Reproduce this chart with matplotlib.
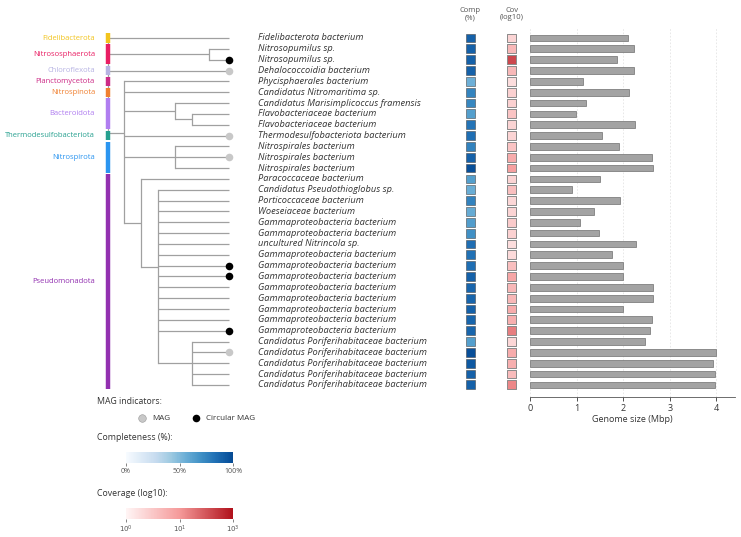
import numpy as np
import matplotlib
matplotlib.use("Agg")
import matplotlib.pyplot as plt
from matplotlib.colors import LinearSegmentedColormap, Normalize
from matplotlib.cm import ScalarMappable

plt.rcParams["font.family"] = ["Open Sans", "DejaVu Sans"]

# ---- data -------------------------------------------------------------
species = [
    "Fidelibacterota bacterium",
    "Nitrosopumilus sp.",
    "Nitrosopumilus sp.",
    "Dehalococcoidia bacterium",
    "Phycisphaerales bacterium",
    "Candidatus Nitromaritima sp.",
    "Candidatus Marisimplicoccus framensis",
    "Flavobacteriaceae bacterium",
    "Flavobacteriaceae bacterium",
    "Thermodesulfobacteriota bacterium",
    "Nitrospirales bacterium",
    "Nitrospirales bacterium",
    "Nitrospirales bacterium",
    "Paracoccaceae bacterium",
    "Candidatus Pseudothioglobus sp.",
    "Porticoccaceae bacterium",
    "Woeseiaceae bacterium",
    "Gammaproteobacteria bacterium",
    "Gammaproteobacteria bacterium",
    "uncultured Nitrincola sp.",
    "Gammaproteobacteria bacterium",
    "Gammaproteobacteria bacterium",
    "Gammaproteobacteria bacterium",
    "Gammaproteobacteria bacterium",
    "Gammaproteobacteria bacterium",
    "Gammaproteobacteria bacterium",
    "Gammaproteobacteria bacterium",
    "Gammaproteobacteria bacterium",
    "Candidatus Poriferihabitaceae bacterium",
    "Candidatus Poriferihabitaceae bacterium",
    "Candidatus Poriferihabitaceae bacterium",
    "Candidatus Poriferihabitaceae bacterium",
    "Candidatus Poriferihabitaceae bacterium",
]

completeness = [90, 90, 90, 90, 55, 75, 74, 63, 82, 84, 76, 90, 98, 63, 56,
                76, 57, 64, 70, 84, 83, 84, 90, 88, 88, 90, 88, 88, 63, 98,
                93, 90, 90]

coverage_log10 = [0.55, 1.0, 2.4, 1.0, 0.4, 0.6, 0.6, 0.8, 0.55, 0.55, 0.8,
                  1.2, 1.4, 0.55, 0.9, 0.5, 0.55, 0.7, 0.6, 0.4, 0.45, 0.9,
                  1.3, 1.0, 1.0, 1.2, 1.15, 1.8, 0.5, 1.2, 1.15, 0.95, 1.7]

genome_mbp = [2.10, 2.23, 1.86, 2.23, 1.13, 2.12, 1.20, 0.99, 2.25, 1.54,
              1.91, 2.62, 2.64, 1.50, 0.90, 1.93, 1.37, 1.07, 1.48, 2.27,
              1.76, 2.00, 1.99, 2.64, 2.64, 1.99, 2.62, 2.57, 2.46, 3.99,
              3.93, 3.97, 3.97]

mag_rows = [3, 9, 11, 29]
circular_rows = [2, 21, 22, 27]

phyla = ["Fidelibacterota", "Nitrososphaerota", "Chloroflexota",
         "Planctomycetota", "Nitrospinota", "Bacteroidota",
         "Thermodesulfobacteriota", "Nitrospirota", "Pseudomonadota"]
phylum_first = [0, 1, 3, 4, 5, 6, 9, 10, 13]
phylum_last = [0, 2, 3, 4, 5, 8, 9, 12, 32]
phylum_colors = ["#f2c41d", "#e91e63", "#b7b3e3", "#cc2a86", "#f08030",
                 "#b07ef0", "#26a08f", "#2b95f0", "#9230b0"]

# tree: (node depth, children); integers are leaf rows
tree = (0, [0, (6, [1, 2]), 3,
            (1, [4, 5, (4, [6, (5, [7, 8])]), 9, (4, [10, 11, 12]),
                 (2, [13, (3, list(range(14, 28)) + [(5, list(range(28, 33)))])])])])

# ---- layout (pixel space) ---------------------------------------------
W, H = 741, 537
Y0, DY = 38.0, 10.84
X_ROOT, STEP, X_TIP = 107.5, 16.9, 228.5
LINE = "#a0a0a0"
TXT = "#333333"

comp_cmap = LinearSegmentedColormap.from_list(
    "comp", plt.cm.Blues(np.linspace(0.0, 0.9, 256)))
cov_cmap = LinearSegmentedColormap.from_list(
    "cov", ["#fff5f5", "#f59a9a", "#b0101a"])


def row_y(r):
    return Y0 + r * DY


fig = plt.figure(figsize=(W / 100, H / 100), dpi=100)
ax = fig.add_axes([0, 0, 1, 1])
ax.set_xlim(0, W)
ax.set_ylim(H, 0)
ax.axis("off")


def draw(node):
    depth, kids = node
    x = X_ROOT + depth * STEP
    ys = []
    for k in kids:
        if isinstance(k, tuple):
            cx = X_ROOT + k[0] * STEP
            cy = draw(k)
        else:
            cx = X_TIP
            cy = row_y(k)
        ax.plot([x, cx], [cy, cy], color=LINE, lw=0.9, zorder=1,
                solid_capstyle="butt")
        ys.append(cy)
    ax.plot([x, x], [min(ys), max(ys)], color=LINE, lw=0.9, zorder=1)
    return float(np.mean(ys))


draw(tree)

# phylum strips and labels
for name, a, b, c in zip(phyla, phylum_first, phylum_last, phylum_colors):
    y1, y2 = row_y(a) - 0.42 * DY, row_y(b) + 0.42 * DY
    ax.plot([X_ROOT, X_ROOT], [y1, y2], color=c, lw=3.2, zorder=3,
            solid_capstyle="butt")
    ax.text(95, (y1 + y2) / 2, name, color=c, fontsize=5.5,
            ha="right", va="center")

# MAG markers
ax.scatter([X_TIP] * len(mag_rows), [row_y(r) for r in mag_rows],
           s=30, color="#c8c8c8", zorder=4, linewidths=0)
ax.scatter([X_TIP] * len(circular_rows), [row_y(r) for r in circular_rows],
           s=30, color="black", zorder=4, linewidths=0)

# species names
for i, name in enumerate(species):
    ax.text(258, row_y(i), name, fontsize=6.7, style="italic", color=TXT,
            ha="left", va="center")

# completeness / coverage squares
ys = [row_y(i) for i in range(len(species))]
ax.scatter([470.5] * len(ys), ys, marker="s", s=40,
           c=completeness, cmap=comp_cmap, vmin=0, vmax=100,
           edgecolors="#4a4a4a", linewidths=0.4, zorder=3)
ax.scatter([511.5] * len(ys), ys, marker="s", s=40,
           c=coverage_log10, cmap=cov_cmap, vmin=0, vmax=3,
           edgecolors="#8a8a8a", linewidths=0.7, zorder=3)
ax.text(470.5, 14, "Comp\n(%)", fontsize=5.5, color="#555555",
        ha="center", va="center", linespacing=1.1)
ax.text(511.5, 14, "Cov\n(log10)", fontsize=5.5, color="#555555",
        ha="center", va="center", linespacing=1.1)

# genome size bars
top_row, bot_row = -0.9, 33.09
bar_bottom = H - row_y(bot_row)
bar_height = row_y(bot_row) - row_y(top_row)
axb = fig.add_axes([530 / W, bar_bottom / H, 205 / W, bar_height / H])
axb.barh(range(len(genome_mbp)), genome_mbp, height=0.62,
         color="#a3a3a3", edgecolor="#6f6f6f", linewidth=0.5, zorder=2)
axb.set_ylim(bot_row, top_row)
axb.set_xlim(0, 4.4)
axb.set_xticks([0, 1, 2, 3, 4])
axb.set_yticks([])
axb.xaxis.grid(True, color="#e4e4e4", linestyle=(0, (2, 2)), lw=0.6,
               zorder=0)
for s in ["top", "right", "left"]:
    axb.spines[s].set_visible(False)
axb.spines["bottom"].set_color("#555555")
axb.spines["bottom"].set_linewidth(0.6)
axb.tick_params(axis="x", labelsize=6.5, colors=TXT, length=3, width=0.6,
                pad=2)
axb.set_xlabel("Genome size (Mbp)", fontsize=6.5, color=TXT, labelpad=2)
axb.patch.set_alpha(0)

# legends
ax.text(97, 402, "MAG indicators:", fontsize=6.3, color=TXT, va="center")
ax.scatter([142], [418], s=30, color="#c8c8c8", linewidths=0.4,
           edgecolors="#999999")
ax.text(152, 418, "MAG", fontsize=5.8, color=TXT, va="center")
ax.scatter([196], [418], s=30, color="black", linewidths=0)
ax.text(206, 418, "Circular MAG", fontsize=5.8, color=TXT, va="center")

ax.text(97, 438, "Completeness (%):", fontsize=6.3, color=TXT, va="center")
cax1 = fig.add_axes([126 / W, 1 - 463 / H, 107 / W, 11 / H])
cb1 = fig.colorbar(ScalarMappable(Normalize(0, 100), comp_cmap), cax=cax1,
                   orientation="horizontal")
cb1.set_ticks([0, 50, 100])
cb1.set_ticklabels(["0%", "50%", "100%"])
cb1.outline.set_visible(False)
cax1.tick_params(labelsize=5, length=2, width=0.5, colors="#555555", pad=1.5)

ax.text(97, 494, "Coverage (log10):", fontsize=6.3, color=TXT, va="center")
cax2 = fig.add_axes([126 / W, 1 - 519 / H, 107 / W, 11 / H])
cb2 = fig.colorbar(ScalarMappable(Normalize(0, 3), cov_cmap), cax=cax2,
                   orientation="horizontal")
cb2.set_ticks([0, 1.5, 3])
cb2.set_ticklabels(["$10^0$", "$10^1$", "$10^3$"])
cb2.outline.set_visible(False)
cax2.tick_params(labelsize=5, length=2, width=0.5, colors="#555555", pad=1.5)

fig.savefig("out.png", dpi=100)
